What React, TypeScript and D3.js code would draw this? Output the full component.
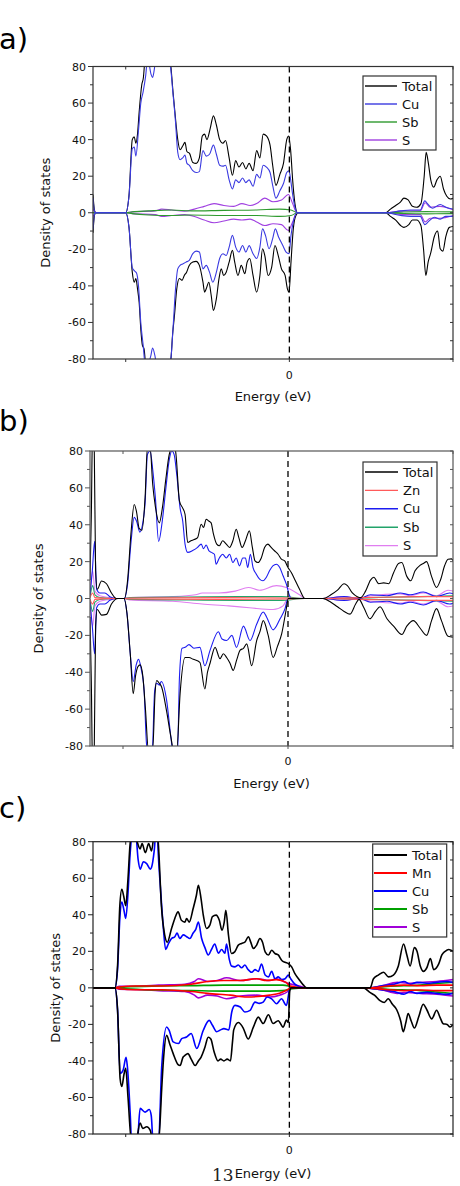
import * as d3 from "d3";

type Pt = [number, number];

// shared axes
const energyDomain: [number, number] = [-6, 5];
const dosDomain: [number, number] = [-80, 80];
const yMajorTicks = [-80, -60, -40, -20, 0, 20, 40, 60, 80];
const yMinorTicks = [-70, -50, -30, -10, 10, 30, 50, 70];
const xTicks = [-5, 0, 5];
const xTickLabels = ["", "0", ""];

// ---- a) ----
const aLegend = ["Total", "Cu", "Sb", "S"];
const aTotalUp: Pt[] = [
  [-6.0, 10], [-5.95, 1], [-5.9, 0], [-5.0, 0], [-4.9, 9.5], [-4.8, 40], [-4.74, 41.5], [-4.69, 38], [-4.64, 43], [-4.59, 55],
  [-4.51, 70], [-4.46, 74], [-4.41, 85], [-4.3, 95], [-4.0, 100], [-3.75, 95], [-3.62, 80], [-3.55, 65], [-3.46, 48], [-3.41, 40],
  [-3.34, 34.5], [-3.26, 36.5], [-3.19, 38.5], [-3.13, 33.5], [-3.05, 32.5], [-2.95, 27.5], [-2.85, 27], [-2.75, 30], [-2.66, 42],
  [-2.59, 43], [-2.52, 40], [-2.42, 46], [-2.32, 53], [-2.23, 48], [-2.13, 40], [-2.03, 38], [-1.95, 39.5], [-1.84, 30], [-1.74, 20.5],
  [-1.64, 28.5], [-1.54, 25], [-1.43, 27.5], [-1.33, 24], [-1.23, 27], [-1.11, 23], [-1.0, 34], [-0.9, 30], [-0.8, 43], [-0.7, 42],
  [-0.59, 37], [-0.51, 26], [-0.41, 15], [-0.29, 21], [-0.18, 27], [-0.08, 40], [-0.02, 42], [0.04, 34], [0.1, 18], [0.17, 5], [0.25, 0],
  [2.94, 0], [3.09, 2], [3.25, 4], [3.4, 6], [3.5, 8], [3.63, 7], [3.76, 3.5], [3.89, 3], [4.02, 5], [4.12, 20], [4.18, 33], [4.24, 28],
  [4.32, 18], [4.41, 14], [4.51, 18], [4.61, 20], [4.71, 13], [4.81, 9], [4.92, 7.5], [5.02, 8],
];
const aTotalDown: Pt[] = [
  [-6.0, -11], [-5.95, -1], [-5.9, 0], [-5.0, 0], [-4.9, -8], [-4.8, -32.5], [-4.74, -38], [-4.69, -36], [-4.64, -41.6], [-4.59, -49],
  [-4.54, -63.5], [-4.49, -72.6], [-4.44, -74.5], [-4.38, -85], [-4.1, -95], [-3.8, -90], [-3.62, -80], [-3.57, -67], [-3.51, -56],
  [-3.44, -41.6], [-3.36, -36], [-3.28, -37], [-3.21, -34.3], [-3.14, -32.5], [-3.06, -28.8], [-2.95, -27], [-2.85, -26.6], [-2.75, -28.8],
  [-2.64, -38], [-2.59, -43.4], [-2.54, -41.6], [-2.46, -38], [-2.39, -45], [-2.32, -53.5], [-2.23, -47], [-2.15, -36], [-2.08, -30.7],
  [-2.01, -34.3], [-1.93, -32.5], [-1.84, -27], [-1.74, -20.6], [-1.67, -27], [-1.57, -34.3], [-1.47, -28.8], [-1.36, -33.4], [-1.29, -27],
  [-1.21, -25], [-1.11, -34.3], [-1.0, -43.4], [-0.9, -34.3], [-0.82, -19.7], [-0.75, -23.4], [-0.65, -34.3], [-0.54, -29.7], [-0.44, -17.9],
  [-0.34, -23.4], [-0.24, -30.7], [-0.13, -34.3], [-0.06, -41.6], [-0.01, -43.4], [0.05, -27], [0.12, -8.8], [0.2, -1.5], [0.28, 0],
  [2.94, 0], [3.09, -2], [3.25, -4], [3.4, -7], [3.5, -8], [3.65, -6.5], [3.76, -4], [3.89, -4], [4.02, -7], [4.1, -20], [4.17, -34.3],
  [4.24, -27], [4.32, -22], [4.43, -13], [4.53, -10], [4.61, -19.7], [4.69, -21], [4.78, -13], [4.89, -8], [5.02, -7.5],
];
const aCuUp: Pt[] = [
  [-6.0, 8], [-5.95, 0.5], [-5.9, 0], [-5.0, 0], [-4.9, 9], [-4.8, 35], [-4.74, 36], [-4.69, 31], [-4.61, 45], [-4.54, 60], [-4.47, 66],
  [-4.39, 75], [-4.33, 85], [-4.23, 76], [-4.18, 74], [-4.13, 78], [-4.05, 90], [-3.75, 88], [-3.62, 78], [-3.57, 68], [-3.48, 50],
  [-3.41, 33], [-3.34, 29], [-3.26, 30], [-3.19, 31.5], [-3.13, 27], [-3.06, 26], [-2.95, 23], [-2.85, 22], [-2.75, 22.5], [-2.64, 34],
  [-2.54, 31], [-2.44, 32], [-2.32, 37], [-2.23, 32], [-2.13, 26], [-2.03, 25.5], [-1.95, 26], [-1.84, 18], [-1.74, 13], [-1.64, 18],
  [-1.54, 16.5], [-1.43, 19], [-1.33, 16.5], [-1.23, 18], [-1.11, 14.5], [-1.0, 21], [-0.9, 19], [-0.8, 26], [-0.7, 25], [-0.59, 22],
  [-0.51, 15], [-0.41, 8], [-0.29, 12], [-0.18, 16], [-0.08, 22], [-0.01, 23], [0.04, 18], [0.1, 10], [0.17, 3], [0.25, 0],
  [2.94, 0], [3.4, 1], [3.7, 1.5], [4.0, 1.5], [4.14, 6.5], [4.22, 5], [4.37, 2.5], [4.61, 4.5], [4.78, 3], [5.02, 2],
];
const aCuDown: Pt[] = [
  [-6.0, -9], [-5.95, -0.5], [-5.9, 0], [-5.0, 0], [-4.9, -8], [-4.8, -30], [-4.72, -32], [-4.67, -33], [-4.61, -40], [-4.54, -60],
  [-4.47, -72], [-4.39, -85], [-4.23, -78], [-4.18, -74], [-4.11, -78], [-4.0, -90], [-3.75, -90], [-3.62, -80], [-3.55, -62], [-3.48, -42],
  [-3.41, -30.7], [-3.34, -28.8], [-3.26, -28], [-3.16, -27], [-3.06, -26], [-2.95, -22.4], [-2.85, -21], [-2.75, -21.5], [-2.64, -30.7],
  [-2.54, -28.8], [-2.44, -32.5], [-2.34, -38], [-2.23, -32.5], [-2.13, -25], [-2.03, -22.4], [-1.93, -23.4], [-1.84, -18.8], [-1.74, -12.4],
  [-1.64, -18.8], [-1.54, -21.5], [-1.43, -17.9], [-1.33, -21.5], [-1.23, -18], [-1.11, -22.4], [-1.0, -25], [-0.9, -18.8], [-0.82, -8.8],
  [-0.73, -12.4], [-0.62, -19.7], [-0.51, -14.2], [-0.43, -8.8], [-0.33, -13.3], [-0.2, -17.9], [-0.1, -21.5], [-0.01, -22.4], [0.05, -12.4],
  [0.12, -5], [0.23, 0], [2.94, 0], [3.4, -1.5], [3.7, -2], [4.0, -2], [4.14, -6.5], [4.24, -5], [4.43, -2.5], [4.61, -3.5], [4.78, -2], [5.02, -2],
];
const aSbUp: Pt[] = [
  [-6.0, 0], [-5.0, 0], [-4.8, 0.5], [-4.3, 1], [-3.6, 1.5], [-3.0, 1], [-2.0, 1.3], [-1.0, 1.5], [-0.3, 2], [0.05, 1.5], [0.25, 0],
  [2.94, 0], [3.5, 0.4], [4.2, 0.6], [5.02, 0.5],
];
const aSbDown: Pt[] = [
  [-6.0, 0], [-5.0, 0], [-4.8, -0.5], [-4.3, -1.2], [-3.6, -1.5], [-3.0, -1.2], [-2.0, -1.5], [-1.0, -1.5], [-0.3, -2], [0.05, -1.5], [0.25, 0],
  [2.94, 0], [3.5, -0.4], [4.2, -0.6], [5.02, -0.5],
];
const aSUp: Pt[] = [
  [-6.0, 2], [-5.9, 0], [-5.0, 0], [-4.8, 0.5], [-4.1, 1], [-3.9, 2], [-3.6, 1.5], [-3.2, 0.8], [-2.9, 2], [-2.6, 3.5], [-2.3, 5], [-2.0, 4],
  [-1.7, 3.5], [-1.45, 5], [-1.2, 4], [-1.0, 5], [-0.75, 8], [-0.5, 6], [-0.24, 7], [-0.03, 10], [0.1, 5], [0.23, 0],
  [2.94, 0], [3.5, 1], [4.0, 1], [4.15, 5.5], [4.3, 3], [4.6, 3.5], [5.02, 1.5],
];
const aSDown: Pt[] = [
  [-6.0, -2], [-5.9, 0], [-5.0, 0], [-4.8, -0.5], [-4.1, -1], [-3.9, -2], [-3.6, -1.5], [-3.2, -1], [-2.9, -2], [-2.6, -4], [-2.3, -5.5],
  [-2.0, -4.5], [-1.7, -3.5], [-1.45, -4], [-1.2, -3.5], [-1.0, -5], [-0.75, -7], [-0.5, -6], [-0.24, -6.5], [-0.03, -9.7], [0.1, -5], [0.23, 0],
  [2.94, 0], [3.5, -1], [4.0, -1], [4.15, -5], [4.3, -3], [4.6, -3], [5.02, -1.5],
];

// ---- b) ----
const bLegend = ["Total", "Zn", "Cu", "Sb", "S"];
const bTotalUp: Pt[] = [
  [-6.0, 10], [-5.96, 45], [-5.92, 95], [-5.87, 80], [-5.83, 15], [-5.78, 5], [-5.65, 9.5], [-5.5, 8], [-5.35, 3], [-5.2, 0], [-4.96, 0],
  [-4.86, 10], [-4.76, 35], [-4.66, 51], [-4.59, 47], [-4.51, 38], [-4.43, 37], [-4.33, 55], [-4.26, 82], [-4.18, 82], [-4.1, 62],
  [-4.02, 50], [-3.9, 41], [-3.8, 50], [-3.7, 65], [-3.6, 78], [-3.5, 82], [-3.41, 80], [-3.29, 53], [-3.19, 49], [-3.12, 45.7],
  [-3.04, 30.4], [-2.94, 31.3], [-2.84, 32], [-2.74, 33], [-2.63, 40.3], [-2.56, 38.5], [-2.48, 43], [-2.4, 42], [-2.33, 41], [-2.26, 35],
  [-2.16, 29.5], [-2.08, 28.6], [-1.98, 31.3], [-1.87, 29.5], [-1.77, 27.7], [-1.67, 31.3], [-1.57, 37.6], [-1.49, 33], [-1.39, 27.7],
  [-1.29, 31.3], [-1.17, 36.7], [-1.08, 27.7], [-1.0, 20.4], [-0.91, 19.5], [-0.81, 22], [-0.71, 27.7], [-0.61, 29.5], [-0.51, 27.7],
  [-0.41, 25.9], [-0.3, 24], [-0.2, 21.3], [-0.1, 20.4], [0, 16.8], [0.1, 14.1], [0.2, 10.5], [0.35, 5], [0.51, 0],
  [1.06, 0], [1.3, 2], [1.5, 4.5], [1.7, 8], [1.8, 7], [1.95, 3], [2.1, 1], [2.2, 0.5], [2.35, 4], [2.5, 10], [2.6, 11.5], [2.75, 8],
  [2.9, 8.5], [3.05, 8], [3.2, 14], [3.35, 19], [3.45, 19.5], [3.6, 12], [3.72, 9.6], [3.85, 15], [4.0, 18], [4.1, 19], [4.2, 20],
  [4.35, 12], [4.5, 6], [4.62, 10], [4.75, 18], [4.85, 21.3], [4.95, 21.5], [5.02, 20],
];
const bTotalDown: Pt[] = [
  [-6.0, -10], [-5.96, -45], [-5.92, -95], [-5.87, -80], [-5.83, -15], [-5.78, -6], [-5.65, -9], [-5.5, -8.6], [-5.35, -3], [-5.15, 0],
  [-4.97, 0], [-4.88, -8], [-4.78, -30], [-4.69, -51.6], [-4.62, -42], [-4.55, -37], [-4.48, -36], [-4.4, -42], [-4.32, -60], [-4.23, -82],
  [-4.1, -82], [-4.03, -52], [-3.98, -44.5], [-3.9, -46], [-3.83, -48], [-3.68, -61], [-3.55, -75], [-3.47, -82], [-3.37, -82], [-3.27, -51.6],
  [-3.12, -32], [-3.0, -32], [-2.87, -33], [-2.67, -34.6], [-2.52, -49], [-2.44, -40], [-2.36, -35], [-2.21, -26.5], [-2.06, -32.6],
  [-1.96, -30], [-1.86, -32], [-1.76, -35], [-1.66, -39], [-1.55, -33], [-1.45, -28], [-1.35, -27], [-1.25, -24.6], [-1.1, -36.5],
  [-0.95, -22.8], [-0.85, -18], [-0.75, -12], [-0.6, -20], [-0.45, -32], [-0.32, -26], [-0.19, -19], [-0.06, -6.5], [0.01, 0],
  [1.06, 0], [1.3, -2], [1.5, -4.5], [1.7, -7], [1.88, -8.5], [2.05, -3], [2.15, -0.5], [2.3, -5], [2.48, -11], [2.65, -7], [2.79, -4.5],
  [3.0, -11], [3.2, -15], [3.45, -19.5], [3.6, -15], [3.8, -12], [4.0, -16], [4.2, -20], [4.35, -12], [4.5, -5.5], [4.65, -12],
  [4.85, -20.5], [5.02, -21],
];
const bZnUp: Pt[] = [
  [-6.0, 0.5], [-5.92, 3], [-5.85, 0.5], [-5.2, 0], [-4.96, 0], [-4.8, 0.3], [-2.0, 0.5], [0, 0.3], [0.5, 0], [1.06, 0], [2.5, 0.6],
  [4.0, 1], [5.02, 1],
];
const bZnDown: Pt[] = [
  [-6.0, -0.5], [-5.92, -3], [-5.85, -0.5], [-5.2, 0], [-4.96, 0], [-4.8, -0.3], [-2.0, -0.5], [0, -0.3], [0.5, 0], [1.06, 0], [2.5, -0.6],
  [4.0, -1], [5.02, -1],
];
const bCuUp: Pt[] = [
  [-6.0, 2], [-5.93, 15], [-5.86, 31], [-5.8, 5], [-5.7, 3], [-5.55, 3], [-5.4, 1], [-5.2, 0], [-4.96, 0], [-4.86, 8], [-4.76, 30],
  [-4.66, 44], [-4.59, 42], [-4.49, 36], [-4.41, 40], [-4.33, 52], [-4.26, 78], [-4.18, 80], [-4.1, 70], [-4.02, 55], [-3.92, 31],
  [-3.81, 42], [-3.7, 60], [-3.6, 75], [-3.52, 80], [-3.45, 78], [-3.37, 67], [-3.27, 49], [-3.19, 42], [-3.12, 29.5], [-3.04, 25],
  [-2.89, 26], [-2.74, 27.7], [-2.63, 29.5], [-2.56, 27], [-2.48, 29], [-2.4, 26], [-2.32, 25], [-2.23, 24], [-2.18, 18.6], [-2.08, 22],
  [-1.98, 24], [-1.87, 22], [-1.77, 24], [-1.67, 19.5], [-1.57, 22], [-1.47, 17.7], [-1.37, 22], [-1.29, 22], [-1.22, 16.8], [-1.14, 24],
  [-1.06, 16.8], [-0.96, 13.2], [-0.86, 10.5], [-0.76, 9.6], [-0.66, 11.4], [-0.56, 15], [-0.46, 17.7], [-0.35, 18.6], [-0.25, 16.8],
  [-0.15, 12.3], [-0.05, 7.8], [0.03, 2.4], [0.1, 0],
  [1.06, 0], [1.7, 1], [2.16, 0], [2.5, 2], [3.0, 1.5], [3.4, 3], [3.7, 2], [4.1, 3.5], [4.5, 1], [4.9, 3], [5.02, 2.5],
];
const bCuDown: Pt[] = [
  [-6.0, -2], [-5.93, -15], [-5.86, -30], [-5.8, -5], [-5.7, -3], [-5.55, -3], [-5.4, -1], [-5.2, 0], [-4.97, 0], [-4.88, -8], [-4.78, -30],
  [-4.69, -45], [-4.6, -36], [-4.53, -33], [-4.45, -38], [-4.36, -50], [-4.28, -80], [-4.12, -85], [-4.04, -50], [-3.98, -46], [-3.9, -47],
  [-3.84, -45], [-3.68, -55], [-3.55, -75], [-3.47, -85], [-3.35, -85], [-3.29, -43], [-3.21, -27], [-3.12, -26.5], [-3.0, -25], [-2.85, -27],
  [-2.67, -26.5], [-2.52, -36.5], [-2.36, -28], [-2.11, -18], [-2.0, -22], [-1.86, -22.8], [-1.7, -20], [-1.56, -26.5], [-1.35, -15],
  [-1.15, -22.8], [-0.95, -14], [-0.75, -7.3], [-0.65, -10], [-0.45, -17], [-0.24, -11], [-0.09, -5.5], [0.0, 0],
  [1.06, 0], [1.7, -1], [2.16, 0], [2.5, -2], [3.0, -1.5], [3.4, -3], [3.7, -2], [4.1, -3.5], [4.5, -1], [4.9, -3], [5.02, -2.5],
];
const bSbUp: Pt[] = [
  [-6.0, 0.5], [-5.92, 7], [-5.85, 2], [-5.7, 0.5], [-5.2, 0], [-4.96, 0], [-4.8, 0.5], [-3.0, 0.8], [-1.5, 1], [-0.2, 1], [0.5, 0],
  [1.06, 0], [2.5, 0.5], [4.0, 1], [5.02, 1.5],
];
const bSbDown: Pt[] = [
  [-6.0, -0.5], [-5.92, -7], [-5.85, -2], [-5.7, -0.5], [-5.2, 0], [-4.96, 0], [-4.8, -0.5], [-3.0, -0.8], [-1.5, -1], [-0.2, -1], [0.5, 0],
  [1.06, 0], [2.5, -0.5], [4.0, -1], [5.02, -1.5],
];
const bSUp: Pt[] = [
  [-6.0, 1], [-5.92, 15], [-5.85, 4], [-5.7, 1.5], [-5.4, 0.5], [-5.2, 0], [-4.96, 0], [-4.8, 0.5], [-3.5, 1], [-2.8, 2], [-2.6, 3],
  [-2.1, 3], [-1.6, 4], [-1.2, 6], [-0.86, 4.5], [-0.35, 7], [-0.05, 6], [0.35, 2], [0.51, 0],
  [1.06, 0], [1.7, 1], [2.16, 0], [2.5, 1.5], [3.4, 2.5], [3.72, 1.5], [4.1, 3], [4.5, 1.5], [4.85, 4.5], [5.02, 4],
];
const bSDown: Pt[] = [
  [-6.0, -1], [-5.92, -15], [-5.85, -4], [-5.7, -1.5], [-5.4, -0.5], [-5.2, 0], [-4.96, 0], [-4.8, -0.8], [-3.5, -1.5], [-2.6, -3],
  [-1.8, -4], [-1.17, -5], [-0.45, -6], [-0.15, -4], [0.0, 0],
  [1.06, 0], [1.7, -1], [2.16, 0], [2.5, -1.5], [3.4, -2.5], [3.72, -1.5], [4.1, -3], [4.5, -1.5], [4.85, -4.5], [5.02, -4],
];

// ---- c) ----
const cLegend = ["Total", "Mn", "Cu", "Sb", "S"];
const cTotalUp: Pt[] = [
  [-6.0, 0], [-5.33, 0], [-5.25, 12], [-5.18, 45], [-5.12, 54], [-5.06, 50], [-5.0, 45], [-4.93, 60], [-4.87, 78], [-4.82, 85],
  [-4.72, 85], [-4.65, 80], [-4.56, 76], [-4.5, 79], [-4.4, 74], [-4.3, 79], [-4.21, 75], [-4.12, 85], [-4.03, 85], [-4.0, 78],
  [-3.91, 45], [-3.81, 29], [-3.73, 25], [-3.6, 32.5], [-3.5, 38], [-3.4, 41.6], [-3.3, 37], [-3.19, 36], [-3.14, 38], [-3.06, 36],
  [-2.94, 43.4], [-2.84, 50.7], [-2.78, 56.2], [-2.7, 49], [-2.63, 39.8], [-2.53, 32.5], [-2.43, 34.3], [-2.35, 39], [-2.24, 39.8],
  [-2.14, 37], [-2.06, 31.6], [-1.99, 36], [-1.94, 42.5], [-1.86, 28.8], [-1.77, 18.8], [-1.67, 19.7], [-1.56, 23.4], [-1.46, 24.3],
  [-1.36, 25], [-1.25, 28], [-1.18, 25], [-1.1, 21.5], [-1.0, 23.4], [-0.9, 27], [-0.82, 25], [-0.74, 19.7], [-0.64, 18], [-0.54, 20.6],
  [-0.44, 18.8], [-0.34, 18], [-0.23, 15], [-0.13, 14], [-0.03, 13.3], [0.07, 11.5], [0.17, 7.8], [0.28, 5], [0.43, 1.5], [0.53, 0],
  [2.47, 0], [2.57, 5], [2.72, 7], [2.88, 8.5], [3.03, 6], [3.18, 7], [3.33, 12], [3.49, 24], [3.59, 18], [3.69, 12], [3.82, 22],
  [3.9, 20], [4.0, 12], [4.1, 9], [4.2, 11], [4.31, 16], [4.41, 10], [4.56, 13], [4.66, 18], [4.76, 20], [4.87, 21], [5.0, 20],
];
const cTotalDown: Pt[] = [
  [-6.0, 0], [-5.33, 0], [-5.25, -12], [-5.17, -50], [-5.12, -54], [-5.05, -47], [-5.0, -44], [-4.93, -60], [-4.82, -85], [-4.7, -85],
  [-4.56, -74], [-4.48, -77], [-4.36, -76], [-4.25, -78], [-4.16, -85], [-4.0, -85], [-3.9, -55], [-3.85, -40], [-3.75, -26], [-3.65, -31],
  [-3.55, -36], [-3.4, -42], [-3.34, -42.5], [-3.25, -38], [-3.19, -37], [-3.1, -36], [-3.0, -39], [-2.88, -42.5], [-2.78, -40], [-2.7, -38],
  [-2.58, -32.5], [-2.48, -27], [-2.4, -28], [-2.3, -35], [-2.18, -40], [-2.1, -39], [-2.0, -40], [-1.9, -39], [-1.8, -40], [-1.74, -30],
  [-1.7, -23], [-1.56, -19], [-1.41, -22], [-1.26, -28], [-1.1, -21.5], [-0.95, -16], [-0.8, -19.5], [-0.64, -14.7], [-0.5, -19.5],
  [-0.34, -18], [-0.19, -21.5], [-0.09, -17.6], [-0.03, -19], [0.01, -2], [0.05, 0],
  [2.26, 0], [2.46, -2.5], [2.6, -4], [2.77, -7], [2.9, -8], [3.02, -6], [3.15, -9], [3.28, -12], [3.4, -18], [3.48, -24], [3.56, -19],
  [3.63, -14], [3.72, -18], [3.82, -22], [3.95, -16], [4.09, -9], [4.2, -12], [4.35, -17], [4.5, -12.3], [4.6, -16], [4.7, -19.6],
  [4.82, -20], [4.91, -21.4], [5.0, -20],
];
const cMnUp: Pt[] = [
  [-6.0, 0], [-5.33, 0], [-5.2, 0.5], [-4.7, 1], [-3.9, 1], [-3.0, 2], [-2.5, 3.5], [-2.0, 4], [-1.5, 4], [-1.0, 5], [-0.7, 4],
  [-0.4, 4.5], [-0.1, 3], [0.02, 1], [0.43, 0], [2.47, 0], [3.0, 1], [3.5, 1.5], [4.0, 1.2], [4.5, 1.5], [5.0, 1.5],
];
const cMnDown: Pt[] = [
  [-6.0, 0], [-5.33, 0], [-5.2, -0.5], [-4.7, -1], [-3.9, -1], [-3.0, -2], [-2.5, -3], [-1.8, -4], [-1.3, -5], [-0.6, -4], [-0.3, -3],
  [-0.1, -1.5], [0.05, 0], [2.3, 0], [3.0, -1], [3.5, -1.5], [4.0, -1.2], [4.5, -1.5], [5.0, -1.5],
];
const cCuUp: Pt[] = [
  [-6.0, 0], [-5.33, 0], [-5.25, 10], [-5.18, 38], [-5.12, 47], [-5.06, 43], [-5.0, 38], [-4.93, 52], [-4.87, 72], [-4.82, 82],
  [-4.7, 85], [-4.62, 70], [-4.56, 65], [-4.46, 69], [-4.36, 68], [-4.25, 65], [-4.21, 66], [-4.13, 75], [-4.08, 84], [-4.03, 84],
  [-4.01, 75], [-3.94, 55], [-3.86, 35], [-3.78, 21], [-3.7, 24], [-3.6, 27], [-3.5, 28], [-3.43, 30], [-3.35, 27], [-3.24, 29],
  [-3.14, 28], [-3.04, 27], [-2.94, 30], [-2.86, 32], [-2.78, 36], [-2.68, 27], [-2.58, 22], [-2.48, 18], [-2.38, 21], [-2.28, 24],
  [-2.17, 19], [-2.07, 21], [-1.97, 19], [-1.92, 24], [-1.84, 16], [-1.77, 12], [-1.66, 11.5], [-1.56, 12.5], [-1.46, 11], [-1.36, 12.5],
  [-1.26, 10], [-1.15, 8.5], [-1.05, 10], [-0.95, 9], [-0.85, 13], [-0.74, 7], [-0.64, 6], [-0.54, 9], [-0.44, 5], [-0.34, 6],
  [-0.23, 4.5], [-0.13, 5], [-0.03, 7], [0.04, 5], [0.17, 2], [0.33, 0.5], [0.43, 0],
  [2.47, 0], [2.8, 1], [3.2, 2], [3.5, 3.5], [3.7, 2], [3.9, 3], [4.2, 2.5], [4.5, 3], [4.8, 3.5], [5.0, 3],
];
const cCuDown: Pt[] = [
  [-6.0, 0], [-5.33, 0], [-5.25, -12], [-5.17, -46.8], [-5.08, -45], [-4.99, -38], [-4.95, -43], [-4.86, -70], [-4.82, -85], [-4.65, -85],
  [-4.56, -66], [-4.41, -68], [-4.28, -66.6], [-4.22, -70], [-4.16, -85], [-4.0, -85], [-3.9, -43], [-3.75, -21.4], [-3.68, -23],
  [-3.55, -29.6], [-3.39, -30.5], [-3.29, -27.8], [-3.14, -26.9], [-3.0, -25], [-2.83, -33.2], [-2.63, -23.2], [-2.45, -17.8],
  [-2.35, -20.5], [-2.22, -24], [-2.1, -23], [-2.0, -22.3], [-1.85, -23], [-1.76, -13.2], [-1.66, -9.6], [-1.5, -10.5], [-1.36, -13.2],
  [-1.2, -12.3], [-1.05, -7.8], [-0.92, -8.5], [-0.8, -7.8], [-0.68, -5], [-0.54, -6], [-0.39, -8.7], [-0.24, -6], [-0.09, -9.6],
  [0.0, -1.5], [0.05, 0],
  [2.3, 0], [2.8, -1], [3.2, -2], [3.5, -3.5], [3.7, -2], [3.9, -3], [4.2, -2.5], [4.5, -3], [4.8, -3.5], [5.0, -3],
];
const cSbUp: Pt[] = [
  [-6.0, 0], [-5.33, 0], [-5.0, 0.5], [-4.0, 1], [-3.0, 1.2], [-2.0, 1.5], [-1.0, 1.5], [-0.2, 1.5], [0.1, 0.5], [0.4, 0],
  [2.47, 0], [3.0, 0.8], [4.0, 1.5], [4.6, 2.5], [5.0, 3],
];
const cSbDown: Pt[] = [
  [-6.0, 0], [-5.33, 0], [-5.0, -0.5], [-4.0, -1.2], [-3.0, -1.5], [-2.0, -1.8], [-1.0, -1.8], [-0.2, -1.5], [0.1, -0.5], [0.4, 0],
  [2.3, 0], [3.0, -0.8], [4.0, -1.5], [4.6, -2.5], [5.0, -3],
];
const cSUp: Pt[] = [
  [-6.0, 0], [-5.33, 0], [-5.2, 0.8], [-4.5, 1], [-4.0, 1.5], [-3.2, 2], [-2.9, 3.5], [-2.78, 5], [-2.5, 3.5], [-2.2, 4], [-1.92, 5.5],
  [-1.5, 4], [-1.0, 5], [-0.6, 4], [-0.4, 5], [-0.05, 2.5], [0.3, 1], [0.53, 0],
  [2.47, 0], [2.8, 1], [3.3, 3], [3.6, 2.5], [4.0, 3], [4.5, 3.5], [5.0, 4.5],
];
const cSDown: Pt[] = [
  [-6.0, 0], [-5.33, 0], [-5.2, -0.8], [-4.5, -1], [-4.0, -1.5], [-3.2, -2], [-2.9, -4], [-2.78, -5.5], [-2.5, -4], [-2.2, -4.5],
  [-1.92, -6], [-1.5, -4.5], [-1.0, -4], [-0.6, -5], [-0.3, -4], [-0.05, -2], [0.05, 0],
  [2.3, 0], [2.8, -1], [3.3, -3], [3.6, -2.5], [4.0, -3], [4.5, -3.5], [5.0, -4.5],
];

interface Series {
  name: string;
  up: Pt[];
  down: Pt[];
  color: string;
}

interface PanelProps {
  id: string;
  tag: string;
  tagY: number;
  left: number;
  right: number;
  top: number;
  bottom: number;
  series: Series[]; // draw order
  legend: string[];
  lineWidth: number;
  frame: string;
  yTitleX: number;
  xTickY: number;
  xTitleY: number;
  lg: { x: number; y: number; w: number; h: number; row0: number; dy: number; l0: number; l1: number; tx: number };
}

const FONT = "DejaVu Sans, Verdana, sans-serif";

function Panel(p: PanelProps) {
  const x = d3.scaleLinear().domain(energyDomain).range([p.left, p.right]);
  const y = d3.scaleLinear().domain(dosDomain).range([p.bottom, p.top]);
  const line = d3
    .line<Pt>()
    .x((d) => x(d[0]))
    .y((d) => y(d[1]))
    .curve(d3.curveMonotoneX);
  const byName = new Map(p.series.map((s) => [s.name, s]));
  const rightTicks = [...yMajorTicks, ...yMinorTicks];

  return (
    <g>
      <clipPath id={`clip-${p.id}`}>
        <rect x={p.left} y={p.top} width={p.right - p.left} height={p.bottom - p.top} />
      </clipPath>
      <text x={-1} y={p.tagY} fontSize={29} fontFamily={FONT} fill="#000">
        {p.tag}
      </text>

      <g clipPath={`url(#clip-${p.id})`}>
        {p.series.map((s) => (
          <g key={s.name} fill="none" stroke={s.color} strokeWidth={p.lineWidth} strokeLinejoin="round">
            <path d={line(s.up) ?? ""} />
            <path d={line(s.down) ?? ""} />
          </g>
        ))}
      </g>

      <line x1={x(0)} x2={x(0)} y1={p.top} y2={p.bottom} stroke="#000" strokeWidth={1.3} strokeDasharray="6,4" />

      <rect x={p.left} y={p.top} width={p.right - p.left} height={p.bottom - p.top} fill="none" stroke={p.frame} strokeWidth={1.2} />

      {/* y axis */}
      {yMajorTicks.map((t) => (
        <g key={`ym${t}`}>
          <line x1={p.left - 5} x2={p.left} y1={y(t)} y2={y(t)} stroke={p.frame} />
          <text x={p.left - 7} y={y(t) + 4} textAnchor="end" fontSize={11} fontFamily={FONT} fill="#111">
            {t}
          </text>
        </g>
      ))}
      {yMinorTicks.map((t) => (
        <line key={`yn${t}`} x1={p.left - 3} x2={p.left} y1={y(t)} y2={y(t)} stroke={p.frame} />
      ))}
      {rightTicks.map((t) => (
        <line key={`yr${t}`} x1={p.right - 3} x2={p.right} y1={y(t)} y2={y(t)} stroke={p.frame} />
      ))}

      {/* x axis */}
      {xTicks.map((t, i) => (
        <g key={`x${t}`}>
          <line x1={x(t)} x2={x(t)} y1={p.bottom} y2={p.bottom + 3} stroke={p.frame} />
          <line x1={x(t)} x2={x(t)} y1={p.top} y2={p.top + 3} stroke={p.frame} />
          <text x={x(t)} y={p.xTickY} textAnchor="middle" fontSize={11} fontFamily={FONT} fill="#111">
            {xTickLabels[i]}
          </text>
        </g>
      ))}

      <text x={(p.left + p.right) / 2} y={p.xTitleY} textAnchor="middle" fontSize={13} fontFamily={FONT} fill="#111">
        Energy (eV)
      </text>
      <text
        transform={`translate(${p.yTitleX},${(p.top + p.bottom) / 2}) rotate(-90)`}
        textAnchor="middle"
        fontSize={13}
        fontFamily={FONT}
        fill="#111"
      >
        Density of states
      </text>

      {/* legend */}
      <rect x={p.lg.x} y={p.lg.y} width={p.lg.w} height={p.lg.h} fill="#fff" stroke="#333" strokeWidth={1.2} />
      {p.legend.map((name, i) => {
        const s = byName.get(name)!;
        const ry = p.lg.row0 + i * p.lg.dy;
        return (
          <g key={`lg${name}`}>
            <line x1={p.lg.l0} x2={p.lg.l1} y1={ry} y2={ry} stroke={s.color} strokeWidth={p.lineWidth + 0.3} />
            <text x={p.lg.tx} y={ry + 4.5} fontSize={13} fontFamily={FONT} fill="#111">
              {name}
            </text>
          </g>
        );
      })}
    </g>
  );
}

export default function App() {
  const panelA: PanelProps = {
    id: "a", tag: "a)", tagY: 49, left: 93, right: 453, top: 66.5, bottom: 359,
    series: [
      { name: "Total", up: aTotalUp, down: aTotalDown, color: "#000000" },
      { name: "S", up: aSUp, down: aSDown, color: "#a040e0" },
      { name: "Sb", up: aSbUp, down: aSbDown, color: "#2e9a2e" },
      { name: "Cu", up: aCuUp, down: aCuDown, color: "#3a3ae0" },
    ],
    legend: aLegend, lineWidth: 1.1, frame: "#333", yTitleX: 50, xTickY: 379, xTitleY: 401,
    lg: { x: 363, y: 76, w: 73, h: 74, row0: 86, dy: 18, l0: 365, l1: 397, tx: 402 },
  };
  const panelB: PanelProps = {
    id: "b", tag: "b)", tagY: 431, left: 90, right: 453, top: 451, bottom: 746,
    series: [
      { name: "S", up: bSUp, down: bSDown, color: "#e07ef0" },
      { name: "Sb", up: bSbUp, down: bSbDown, color: "#22a36a" },
      { name: "Cu", up: bCuUp, down: bCuDown, color: "#1c1cf0" },
      { name: "Zn", up: bZnUp, down: bZnDown, color: "#ff5a5a" },
      { name: "Total", up: bTotalUp, down: bTotalDown, color: "#000000" },
    ],
    legend: bLegend, lineWidth: 1.1, frame: "#555", yTitleX: 43, xTickY: 765, xTitleY: 788,
    lg: { x: 363, y: 462, w: 74, h: 94, row0: 472, dy: 18.4, l0: 365, l1: 398, tx: 403 },
  };
  const panelC: PanelProps = {
    id: "c", tag: "c)", tagY: 818, left: 93, right: 453, top: 841.7, bottom: 1134,
    series: [
      { name: "S", up: cSUp, down: cSDown, color: "#a000d8" },
      { name: "Sb", up: cSbUp, down: cSbDown, color: "#00a000" },
      { name: "Cu", up: cCuUp, down: cCuDown, color: "#0000ff" },
      { name: "Mn", up: cMnUp, down: cMnDown, color: "#ff0000" },
      { name: "Total", up: cTotalUp, down: cTotalDown, color: "#000000" },
    ],
    legend: cLegend, lineWidth: 1.6, frame: "#222", yTitleX: 60, xTickY: 1154, xTitleY: 1178,
    lg: { x: 372.7, y: 844, w: 74, h: 93, row0: 855, dy: 18, l0: 374, l1: 407, tx: 412 },
  };

  return (
    <svg width={460} height={1186} style={{ position: "absolute", left: 0, top: 0, background: "#fff" }}>
      <rect width={460} height={1186} fill="#fff" />
      <Panel {...panelA} />
      <Panel {...panelB} />
      <Panel {...panelC} />
      <text x={212} y={1181} fontSize={17} fontFamily="DejaVu Serif, serif" fill="#222">
        13
      </text>
    </svg>
  );
}
